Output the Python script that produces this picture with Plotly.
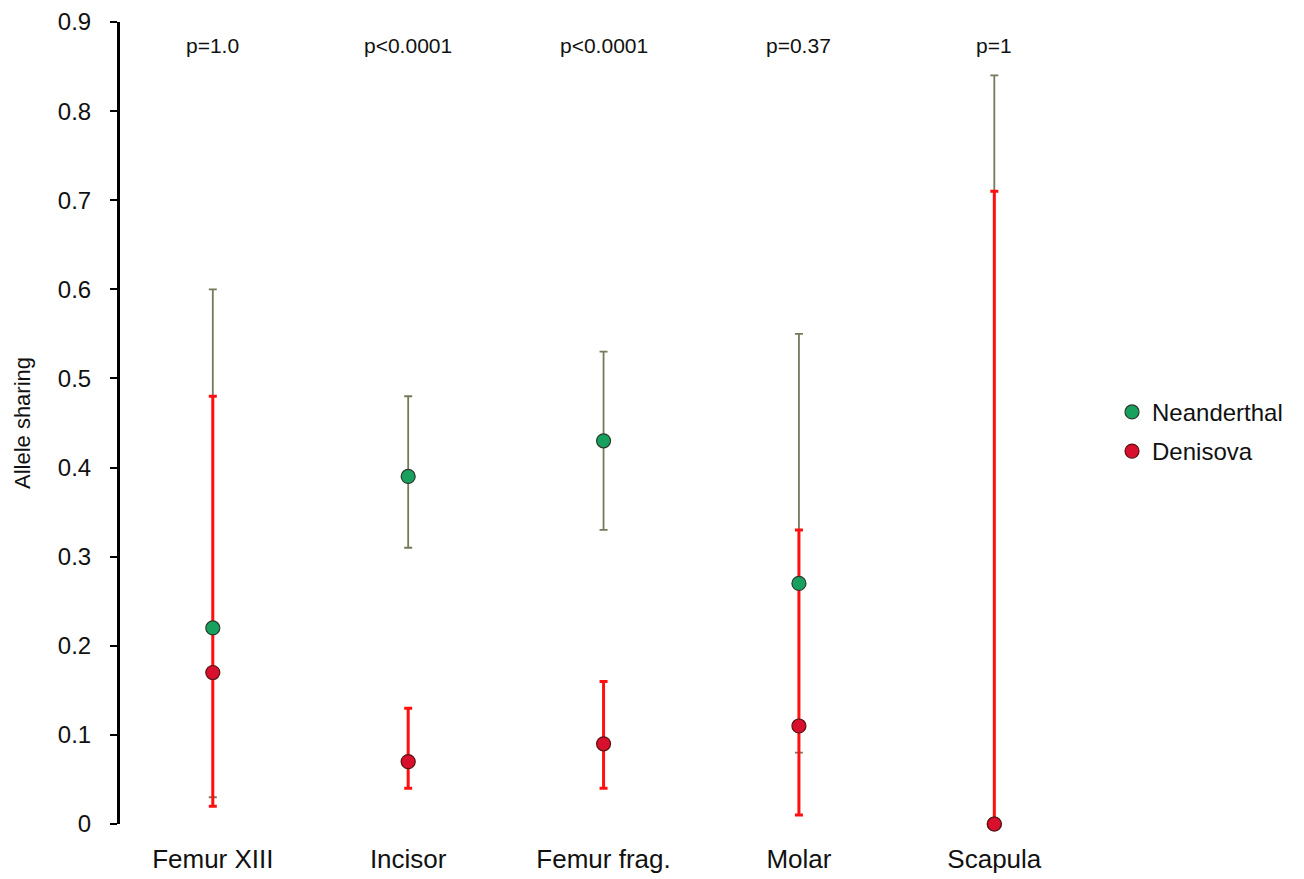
import plotly.graph_objects as go

categories = ["Femur XIII", "Incisor", "Femur frag.", "Molar", "Scapula"]
p_labels = ["p=1.0", "p<0.0001", "p<0.0001", "p=0.37", "p=1"]

nean_val = [0.22, 0.39, 0.43, 0.27, 0.0]
nean_low = [0.03, 0.31, 0.33, 0.08, 0.0]
nean_high = [0.60, 0.48, 0.53, 0.55, 0.84]

den_val = [0.17, 0.07, 0.09, 0.11, 0.0]
den_low = [0.02, 0.04, 0.04, 0.01, 0.0]
den_high = [0.48, 0.13, 0.16, 0.33, 0.71]

xs = list(range(len(categories)))

def plus(v, h):
    return [b - a for a, b in zip(v, h)]

def minus(v, l):
    return [a - b for a, b in zip(v, l)]

fig = go.Figure()

fig.add_trace(go.Scatter(
    x=xs, y=nean_val, mode="markers", showlegend=False, hoverinfo="skip", cliponaxis=False,
    marker=dict(size=1, color="rgba(0,0,0,0)"),
    error_y=dict(type="data", symmetric=False,
                 array=plus(nean_val, nean_high), arrayminus=minus(nean_val, nean_low),
                 color="#78785c", thickness=1.8, width=4),
))
fig.add_trace(go.Scatter(
    x=xs, y=den_val, mode="markers", showlegend=False, hoverinfo="skip", cliponaxis=False,
    marker=dict(size=1, color="rgba(0,0,0,0)"),
    error_y=dict(type="data", symmetric=False,
                 array=plus(den_val, den_high), arrayminus=minus(den_val, den_low),
                 color="#ff1010", thickness=3, width=4),
))
fig.add_trace(go.Scatter(
    x=xs, y=nean_val, mode="markers", name="Neanderthal", legendgroup="n", cliponaxis=False,
    marker=dict(size=14, color="#17a05e", line=dict(color="#2b3a2b", width=1.2)),
))
fig.add_trace(go.Scatter(
    x=xs, y=den_val, mode="markers", name="Denisova", legendgroup="d", cliponaxis=False,
    marker=dict(size=14, color="#d8102e", line=dict(color="#5a1010", width=1.2)),
))

for x, t in zip(xs, p_labels):
    fig.add_annotation(x=x, y=0.874, text=t, showarrow=False,
                       font=dict(size=21, color="#111111"), xanchor="center", yanchor="middle")

fig.update_layout(
    width=1296, height=871,
    margin=dict(l=112, r=212, t=14, b=55),
    paper_bgcolor="white", plot_bgcolor="white",
    font=dict(family="Liberation Sans, Arial, sans-serif", color="#111111"),
    legend=dict(x=1.0206, y=0.489, xanchor="left", yanchor="middle",
                font=dict(size=24), itemwidth=30, tracegroupgap=5,
                bgcolor="rgba(0,0,0,0)"),
    xaxis=dict(
        tickmode="array", tickvals=xs, ticktext=categories,
        range=[-0.475, 4.5], showgrid=False, zeroline=False, showline=False,
        ticks="", tickfont=dict(size=26), ticklabelstandoff=17, automargin=False,
    ),
    yaxis=dict(
        range=[0, 0.9], dtick=0.1, tickformat=".1~f",
        showgrid=False, zeroline=False, showline=True, linecolor="black", linewidth=3,
        ticks="outside", ticklen=7, tickwidth=2, tickcolor="black",
        tickfont=dict(size=24), ticklabelstandoff=14, automargin=False,
        title=dict(text="Allele sharing", font=dict(size=22), standoff=22),
    ),
)

fig.write_html("out.html")
